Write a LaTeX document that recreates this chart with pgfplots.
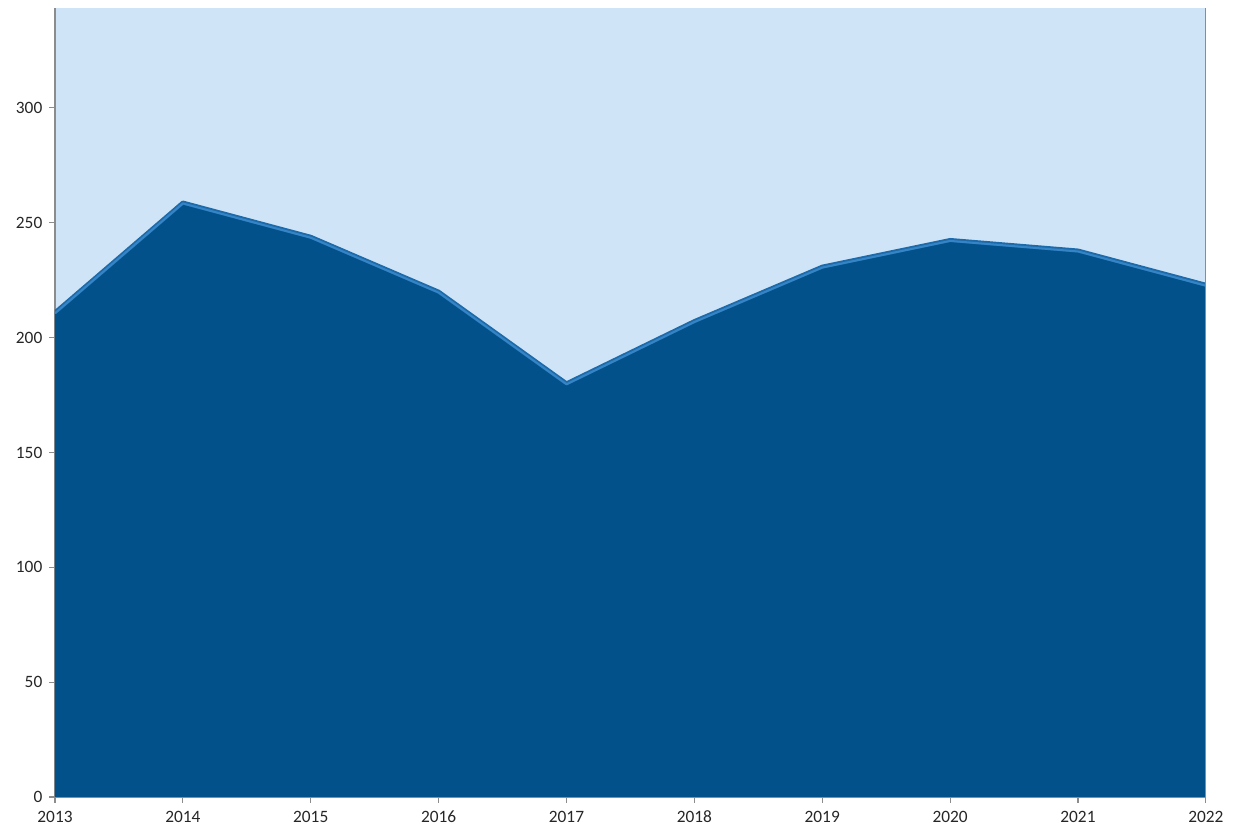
\documentclass[border=0pt]{standalone}
\usepackage{fontspec}
\setmainfont{Carlito}
\usepackage{pgfplots}
\pgfplotsset{compat=1.18}

\definecolor{bgblue}{HTML}{CFE5F7}
\definecolor{areablue}{HTML}{02518A}
\definecolor{edgeblue}{HTML}{3584C6}
\definecolor{edgedark}{HTML}{1D6AAA}
\definecolor{axisgray}{HTML}{8C8C8C}

\begin{document}
\begin{tikzpicture}
\path[use as bounding box] (0pt,0pt) rectangle (924.75pt,621pt);
\begin{axis}[
    at={(41.25pt,23.25pt)}, anchor=south west,
    scale only axis,
    width=863.25pt, height=591.75pt,
    xmin=2013, xmax=2022,
    ymin=0, ymax=343.5,
    xtick={2013,...,2022},
    ytick={0,50,...,300},
    xticklabel style={/pgf/number format/1000 sep={}},
    /pgf/number format/assume math mode=true,
    tick label style={font=\fontsize{13}{15}\selectfont, color=black!85},
    axis x line=bottom, axis y line=left,
    axis line style={axisgray, line width=1.2pt, -},
    tick style={axisgray, line width=0.8pt},
    tick align=outside,
    major tick length=4.5pt,
    xticklabel shift=2.5pt,
    yticklabel shift=1.5pt,
    axis background/.style={fill=bgblue},
    clip=true,
]
\addplot[draw=none, fill=areablue] coordinates {
    (2013,211) (2014,258.8) (2015,243.9) (2016,220) (2017,180.1)
    (2018,207.2) (2019,230.9) (2020,242.5) (2021,237.9) (2022,223)
} \closedcycle;
\addplot[edgedark, line width=3pt, line join=round] coordinates {
    (2013,211) (2014,258.8) (2015,243.9) (2016,220) (2017,180.1)
    (2018,207.2) (2019,230.9) (2020,242.5) (2021,237.9) (2022,223)
};
\addplot[edgeblue, line width=1.5pt, line join=round] coordinates {
    (2013,210.6) (2014,258.4) (2015,243.5) (2016,219.6) (2017,179.7)
    (2018,206.8) (2019,230.5) (2020,242.1) (2021,237.5) (2022,222.6)
};
\draw[axisgray, line width=1.2pt] (rel axis cs:1,0) -- (rel axis cs:1,1);
\end{axis}
\end{tikzpicture}
\end{document}
